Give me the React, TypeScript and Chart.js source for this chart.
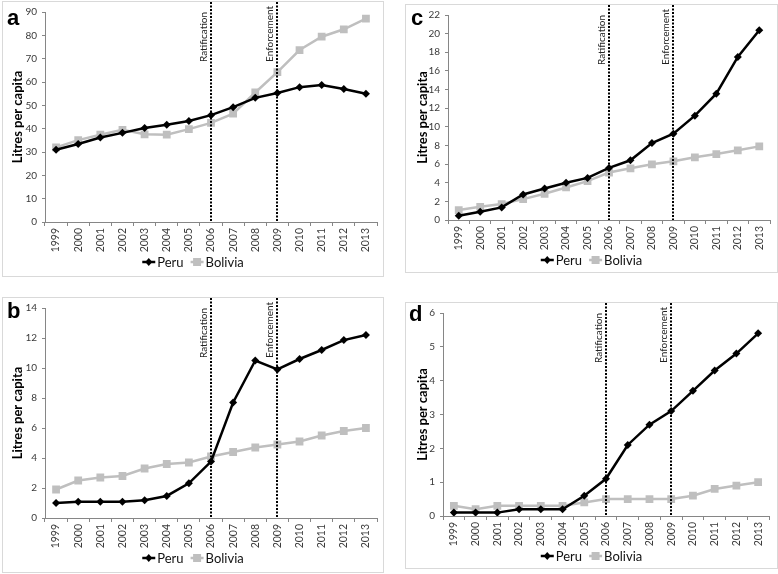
import React, { useEffect, useRef } from "react";
import { Chart, registerables } from "chart.js";

Chart.register(...registerables);

const years = ["1999", "2000", "2001", "2002", "2003", "2004", "2005", "2006", "2007", "2008", "2009", "2010", "2011", "2012", "2013"];

const peruA = [31.0, 33.4, 36.2, 38.2, 40.3, 41.7, 43.3, 45.8, 49.2, 53.2, 55.3, 57.8, 58.7, 57.0, 55.0];
const boliviaA = [32.0, 35.1, 37.4, 39.5, 37.6, 37.4, 39.8, 42.5, 46.4, 55.5, 64.2, 73.7, 79.4, 82.6, 87.2];

const peruB = [1.0, 1.08, 1.08, 1.08, 1.19, 1.47, 2.31, 3.76, 7.7, 10.5, 9.9, 10.6, 11.2, 11.86, 12.2];
const boliviaB = [1.9, 2.5, 2.7, 2.8, 3.3, 3.6, 3.7, 4.1, 4.4, 4.7, 4.9, 5.1, 5.5, 5.8, 6.0];

const peruC = [0.46, 0.89, 1.35, 2.74, 3.38, 3.99, 4.52, 5.59, 6.41, 8.26, 9.26, 11.2, 13.56, 17.5, 20.36];
const boliviaC = [1.07, 1.42, 1.71, 2.24, 2.81, 3.49, 4.17, 5.09, 5.55, 5.98, 6.3, 6.73, 7.08, 7.48, 7.9];

const peruD = [0.1, 0.1, 0.1, 0.2, 0.2, 0.2, 0.6, 1.1, 2.1, 2.7, 3.1, 3.7, 4.3, 4.8, 5.4];
const boliviaD = [0.3, 0.2, 0.3, 0.3, 0.3, 0.3, 0.4, 0.5, 0.5, 0.5, 0.5, 0.6, 0.8, 0.9, 1.0];

const eventYears = ["2006", "2009"];
const eventLabels = ["Ratification", "Enforcement"];
const seriesNames = ["Peru", "Bolivia"];
const yTitle = "Litres per capita";

const FONT = "Lato, 'Noto Sans', sans-serif";
const AXIS = "#868686";
const TEXT = "#3a3a3a";
const PERU_COLOR = "#000000";
const BOLIVIA_COLOR = "#bfbfbf";

type Box = { left: number; top: number; right: number; bottom: number };

type PanelProps = {
  letter: string;
  peru: number[];
  bolivia: number[];
  yMax: number;
  yStep: number;
  box: Box;
  plot: Box;
  letterX: number;
  letterY: number;
  legendY: number;
  titleX: number;
};

function Panel(p: PanelProps) {
  const ref = useRef<HTMLCanvasElement | null>(null);
  const W = p.box.right - p.box.left + 1;
  const H = p.box.bottom - p.box.top + 1;

  useEffect(() => {
    const canvas = ref.current;
    if (!canvas) return;
    const padTop = p.plot.top - p.box.top;
    const padRight = p.box.right - p.plot.right;
    const yWidth = p.plot.left - p.box.left;
    const xHeight = H - (p.plot.bottom - p.box.top);

    const overlay = {
      id: "overlay" + p.letter,
      afterDraw(chart: any) {
        const ctx = chart.ctx as CanvasRenderingContext2D;
        const area = chart.chartArea;
        const xs = chart.scales.x;
        ctx.save();
        // border
        ctx.strokeStyle = "#d9d9d9";
        ctx.lineWidth = 1;
        ctx.strokeRect(0.5, 0.5, W - 1, H - 1);

        // event lines
        eventYears.forEach((yr, i) => {
          const x = Math.round(xs.getPixelForValue(years.indexOf(yr)));
          ctx.save();
          ctx.strokeStyle = "#000";
          ctx.lineWidth = 2;
          ctx.setLineDash([2, 1.5]);
          ctx.beginPath();
          ctx.moveTo(x, 1);
          ctx.lineTo(x, area.bottom);
          ctx.stroke();
          ctx.restore();
          ctx.save();
          ctx.translate(x - 7.5, 61);
          ctx.rotate(-Math.PI / 2);
          ctx.fillStyle = "#222";
          ctx.font = `10px ${FONT}`;
          ctx.textAlign = "left";
          ctx.textBaseline = "middle";
          ctx.fillText(eventLabels[i], 0, 0);
          ctx.restore();
        });

        // letter
        ctx.fillStyle = "#000";
        ctx.font = "bold 22px 'Liberation Sans', Arial, sans-serif";
        ctx.textAlign = "left";
        ctx.textBaseline = "alphabetic";
        ctx.fillText(p.letter, p.letterX, p.letterY);

        // legend
        ctx.font = `13px ${FONT}`;
        const seg = 13;
        const gap1 = 2;
        const gap2 = 7;
        const w0 = ctx.measureText(seriesNames[0]).width;
        const w1 = ctx.measureText(seriesNames[1]).width;
        const total = seg + gap1 + w0 + gap2 + seg + gap1 + w1;
        let lx = W / 2 - total / 2;
        const ly = p.legendY;
        const drawItem = (name: string, color: string, style: string, w: number) => {
          ctx.strokeStyle = color;
          ctx.lineWidth = 2.5;
          ctx.beginPath();
          ctx.moveTo(lx, ly);
          ctx.lineTo(lx + seg, ly);
          ctx.stroke();
          ctx.fillStyle = color;
          const cx = lx + seg / 2;
          ctx.beginPath();
          if (style === "diamond") {
            ctx.moveTo(cx, ly - 4);
            ctx.lineTo(cx + 3.5, ly);
            ctx.lineTo(cx, ly + 4);
            ctx.lineTo(cx - 3.5, ly);
            ctx.closePath();
          } else {
            ctx.rect(cx - 4, ly - 4, 8, 8);
          }
          ctx.fill();
          ctx.fillStyle = "#111";
          ctx.textBaseline = "middle";
          ctx.fillText(name, lx + seg + gap1, ly + 0.5);
          lx += seg + gap1 + w + gap2;
        };
        drawItem(seriesNames[0], PERU_COLOR, "diamond", w0);
        drawItem(seriesNames[1], BOLIVIA_COLOR, "square", w1);
        ctx.restore();
      },
    };

    const chart = new Chart(canvas, {
      type: "line",
      data: {
        labels: years,
        datasets: [
          {
            label: seriesNames[1],
            data: p.bolivia,
            borderColor: BOLIVIA_COLOR,
            backgroundColor: BOLIVIA_COLOR,
            borderWidth: 2.5,
            pointStyle: "rect",
            pointRadius: 5.5,
            pointBorderWidth: 0,
            tension: 0,
            order: 2,
          },
          {
            label: seriesNames[0],
            data: p.peru,
            borderColor: PERU_COLOR,
            backgroundColor: PERU_COLOR,
            borderWidth: 2.5,
            pointStyle: "rectRot",
            pointRadius: 4,
            pointBorderWidth: 0,
            tension: 0,
            order: 1,
          },
        ],
      },
      options: {
        responsive: false,
        maintainAspectRatio: false,
        animation: false,
        events: [],
        layout: { padding: { left: 0, top: padTop, right: padRight, bottom: 0 } },
        plugins: { legend: { display: false }, tooltip: { enabled: false } },
        scales: {
          x: {
            type: "category",
            offset: true,
            grid: { offset: true, drawOnChartArea: false, tickLength: 4, color: AXIS },
            border: { color: AXIS, width: 1 },
            ticks: {
              minRotation: 90,
              maxRotation: 90,
              autoSkip: false,
              padding: 2,
              color: TEXT,
              font: { family: FONT, size: 10.5 },
            },
            afterFit: (s: any) => {
              s.height = xHeight;
            },
          },
          y: {
            min: 0,
            max: p.yMax,
            ticks: { stepSize: p.yStep, padding: 5, color: TEXT, font: { family: FONT, size: 10 } },
            grid: { drawOnChartArea: false, tickLength: 3, color: AXIS },
            border: { color: AXIS, width: 1 },
            title: {
              display: true,
              text: yTitle,
              color: "#000",
              font: { family: FONT, size: 13, weight: "bold" },
              padding: { top: p.titleX - 7.8, bottom: 0 },
            },
            afterFit: (s: any) => {
              s.width = yWidth;
            },
          },
        },
      } as any,
      plugins: [overlay],
    });
    return () => chart.destroy();
  }, []);

  return (
    <canvas
      ref={ref}
      width={W}
      height={H}
      style={{ position: "absolute", left: p.box.left, top: p.box.top, width: W, height: H }}
    />
  );
}

export default function App() {
  useEffect(() => {
    document.body.style.margin = "0";
    document.body.style.background = "#fff";
  }, []);
  return (
    <div style={{ position: "relative", width: 778, height: 574, background: "#fff", overflow: "hidden" }}>
      <Panel
        letter="a"
        peru={peruA}
        bolivia={boliviaA}
        yMax={90}
        yStep={10}
        box={{ left: 2, top: 1, right: 383, bottom: 276 }}
        plot={{ left: 45, top: 10, right: 376, bottom: 222 }}
        letterX={5}
        letterY={24}
        legendY={261}
        titleX={16}
      />
      <Panel
        letter="b"
        peru={peruB}
        bolivia={boliviaB}
        yMax={14}
        yStep={2}
        box={{ left: 2, top: 297, right: 383, bottom: 572 }}
        plot={{ left: 45, top: 306, right: 376, bottom: 518 }}
        letterX={5}
        letterY={21}
        legendY={261}
        titleX={16}
      />
      <Panel
        letter="c"
        peru={peruC}
        bolivia={boliviaC}
        yMax={22}
        yStep={2}
        box={{ left: 405, top: 4, right: 777, bottom: 272 }}
        plot={{ left: 448, top: 14, right: 769, bottom: 220 }}
        letterX={6}
        letterY={21}
        legendY={256}
        titleX={18}
      />
      <Panel
        letter="d"
        peru={peruD}
        bolivia={boliviaD}
        yMax={6}
        yStep={1}
        box={{ left: 405, top: 302, right: 777, bottom: 568 }}
        plot={{ left: 443, top: 311, right: 768, bottom: 516 }}
        letterX={4}
        letterY={19}
        legendY={254}
        titleX={18}
      />
    </div>
  );
}
